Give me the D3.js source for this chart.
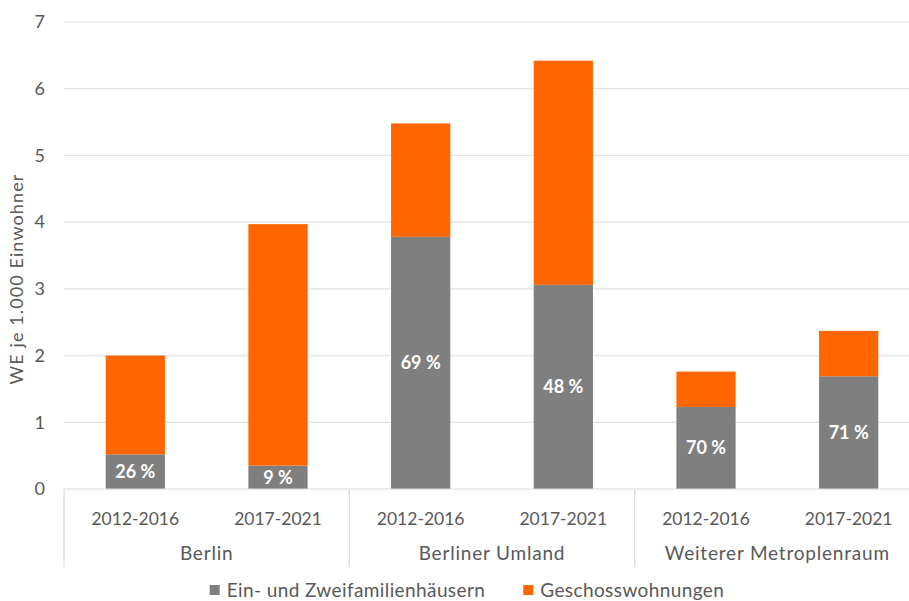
<!DOCTYPE html>
<html><head><meta charset="utf-8">
<script src="https://cdn.jsdelivr.net/npm/d3@7"></script>
<style>body{margin:0;background:#fff}svg{display:block}text{font-family:Lato,"Open Sans",sans-serif}</style>
</head><body><div id="chart"></div>
<script>
const groups = ["Berlin", "Berliner Umland", "Weiterer Metroplenraum"];
const periods = ["2012-2016", "2017-2021"];
const efh = [0.52, 0.35, 3.78, 3.06, 1.23, 1.69];   // Ein- und Zweifamilienhäusern
const gw  = [1.48, 3.62, 1.70, 3.36, 0.53, 0.68];   // Geschosswohnungen
const pctLabels = ["26 %", "9 %", "69 %", "48 %", "70 %", "71 %"];
const yTicks = [0, 1, 2, 3, 4, 5, 6, 7];
const seriesNames = ["Ein- und Zweifamilienhäusern", "Geschosswohnungen"];
const colors = ["#7f7f7f", "#ff6600"];

(function () {
const W = 909, H = 601;
const svg = d3.select("#chart").append("svg").attr("width", W).attr("height", H);
const pl = 64, pr = 920, pt = 22, pb = 489;

const cats = [];
groups.forEach((g, gi) => periods.forEach((p, pi) => cats.push({g, p, i: gi * periods.length + pi})));
const x = d3.scaleBand().domain(cats.map(c => c.i)).range([pl, pr]).padding(0);
const xg = d3.scaleBand().domain(groups).range([pl, pr]).padding(0);
const y = d3.scaleLinear().domain([0, 7]).range([pb, pt]);
const barW = x.bandwidth() * 0.415;

// grid
svg.append("g").selectAll("line").data(yTicks.filter(t => t > 0)).join("line")
  .attr("x1", pl).attr("x2", W).attr("y1", d => y(d)).attr("y2", d => y(d))
  .attr("stroke", "#e3e3e3").attr("stroke-width", 1.2);

// y tick labels
svg.append("g").selectAll("text").data(yTicks).join("text")
  .attr("x", 45).attr("y", d => y(d)).attr("dy", "0.35em").attr("text-anchor", "end")
  .attr("font-size", 18).attr("fill", "#595959").text(d => d);

// axis title
svg.append("text").attr("transform", `translate(23,279) rotate(-90)`)
  .attr("text-anchor", "middle").attr("font-size", 18).attr("letter-spacing", 1.1)
  .attr("fill", "#595959").text("WE je 1.000 Einwohner");

// stacked bars
const stack = d3.stack().keys([0, 1]).value((d, k) => k === 0 ? efh[d.i] : gw[d.i]);
const layers = stack(cats);
svg.append("g").selectAll("g").data(layers).join("g").attr("fill", (d, k) => colors[k])
  .selectAll("rect").data(d => d).join("rect")
  .attr("x", d => x(d.data.i) + (x.bandwidth() - barW) / 2)
  .attr("width", barW)
  .attr("y", d => y(d[1]))
  .attr("height", d => y(d[0]) - y(d[1]));

// percent labels
svg.append("g").selectAll("text").data(cats).join("text")
  .attr("x", d => x(d.i) + x.bandwidth() / 2)
  .attr("y", d => y(efh[d.i] / 2))
  .attr("dy", "0.35em").attr("text-anchor", "middle")
  .attr("font-size", 18).attr("font-weight", "bold").attr("fill", "#fff")
  .text(d => pctLabels[d.i]);

// x axis line
svg.append("line").attr("x1", pl).attr("x2", W).attr("y1", pb).attr("y2", pb)
  .attr("stroke", "#d9d9d9").attr("stroke-width", 1.2);
// group separators
const seps = groups.map(g => xg(g));
svg.append("g").selectAll("line").data(seps).join("line")
  .attr("x1", d => d).attr("x2", d => d).attr("y1", pb).attr("y2", 567)
  .attr("stroke", "#d9d9d9").attr("stroke-width", 1.2);

// period labels
svg.append("g").selectAll("text").data(cats).join("text")
  .attr("x", d => x(d.i) + x.bandwidth() / 2).attr("y", 525)
  .attr("text-anchor", "middle").attr("font-size", 17.5).attr("fill", "#595959")
  .text(d => d.p);
// group labels
svg.append("g").selectAll("text").data(groups).join("text")
  .attr("x", d => xg(d) + xg.bandwidth() / 2).attr("y", 560)
  .attr("text-anchor", "middle").attr("font-size", 19).attr("letter-spacing", 0.8).attr("fill", "#595959")
  .text(d => d);

// legend
const leg = svg.append("g");
let cx = 0;
seriesNames.forEach((n, k) => {
  const gi = leg.append("g").attr("transform", `translate(${cx},0)`);
  gi.append("rect").attr("x", 0).attr("y", -5).attr("width", 10).attr("height", 10).attr("fill", colors[k]);
  const t = gi.append("text").attr("x", 17).attr("y", 0).attr("dy", "0.35em")
    .attr("font-size", 19).attr("letter-spacing", 0.4).attr("fill", "#595959").text(n);
  cx += 17 + t.node().getComputedTextLength() + 38;
});
const legW = cx - 38;
leg.attr("transform", `translate(${467 - legW / 2},590)`);
})();
</script></body></html>
